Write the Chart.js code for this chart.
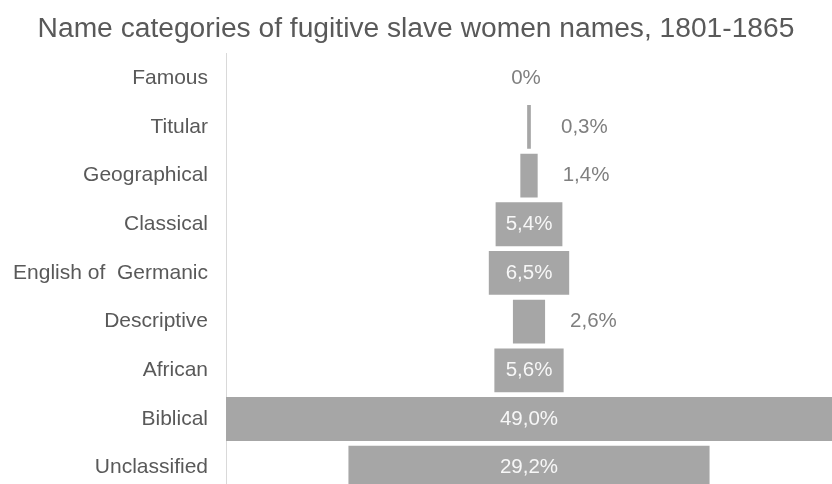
<!DOCTYPE html>
<html>
<head>
<meta charset="utf-8">
<script src="https://cdn.jsdelivr.net/npm/chart.js@4.4.0/dist/chart.umd.min.js"></script>
<style>
  html, body { margin: 0; padding: 0; background: #fff; overflow: hidden; }
  #wrap { width: 832px; height: 484px; overflow: hidden; }
</style>
</head>
<body>
<div id="wrap"><canvas id="canvasFunnel" width="832" height="492"></canvas></div>
<script>
// datos del grafico
var categorias = ['Famous', 'Titular', 'Geographical', 'Classical', 'English of  Germanic', 'Descriptive', 'African', 'Biblical', 'Unclassified'];
var porcentajes = [0, 0.3, 1.4, 5.4, 6.5, 2.6, 5.6, 49.0, 29.2];

var gris = '#a6a6a6';
var texto = '#595959';
var textoFuera = '#7f7f7f';
var fuente = '"Liberation Sans", Arial, sans-serif';

function formato(v){
	if(v == 0) return '0%';
	return v.toFixed(1).replace('.', ',') + '%';
}

// barras flotantes centradas en cero
var barras = [];
porcentajes.forEach(function(v){
	barras.push([-v / 2, v / 2]);
});

// etiquetas dentro o fuera de la barra
var etiquetas = {
	id: 'etiquetas',
	afterDatasetsDraw: function(chart){
		var ctx = chart.ctx;
		var meta = chart.getDatasetMeta(0);
		ctx.save();
		ctx.font = '20.5px ' + fuente;
		ctx.textBaseline = 'middle';
		meta.data.forEach(function(bar, i){
			var v = porcentajes[i];
			var txt = formato(v);
			if(v == 0){
				ctx.fillStyle = textoFuera;
				ctx.textAlign = 'center';
				ctx.fillText(txt, bar.x - 3, bar.y);
			} else if(v < 5){
				ctx.fillStyle = textoFuera;
				ctx.textAlign = 'left';
				ctx.fillText(txt, Math.max(bar.x + 25, 561), bar.y);
			} else {
				var cx = (bar.x + bar.base) / 2;
				ctx.fillStyle = '#f7f7f7';
				ctx.textAlign = 'center';
				ctx.fillText(txt, cx, bar.y);
			}
		});
		ctx.restore();
	}
};

var ctx = document.getElementById('canvasFunnel').getContext('2d');
window.myFunnel = new Chart(ctx, {
	type: 'bar',
	data: {
		labels: categorias,
		datasets: [{
			data: barras,
			backgroundColor: gris,
			borderWidth: 0,
			barPercentage: 0.9,
			categoryPercentage: 1.0
		}]
	},
	plugins: [etiquetas],
	options: {
		indexAxis: 'y',
		responsive: false,
		animation: false,
		devicePixelRatio: 1,
		layout: { padding: 0 },
		plugins: {
			legend: { display: false },
			tooltip: { enabled: false },
			title: {
				display: true,
				text: 'Name categories of fugitive slave women names, 1801-1865',
				color: texto,
				font: { family: fuente, size: 28.2, weight: 'normal' },
				padding: { top: 12, bottom: 8 }
			}
		},
		scales: {
			x: {
				display: false,
				min: -24.5,
				max: 24.5
			},
			y: {
				grid: { display: false, drawTicks: false },
				border: { display: true, color: '#d9d9d9', width: 1 },
				ticks: {
					color: texto,
					padding: 18,
					font: { family: fuente, size: 21 }
				},
				afterFit: function(scale){
					scale.width = 226;
					scale.paddingTop = 0;
					scale.paddingBottom = 0;
				}
			}
		}
	}
});
</script>
</body>
</html>
